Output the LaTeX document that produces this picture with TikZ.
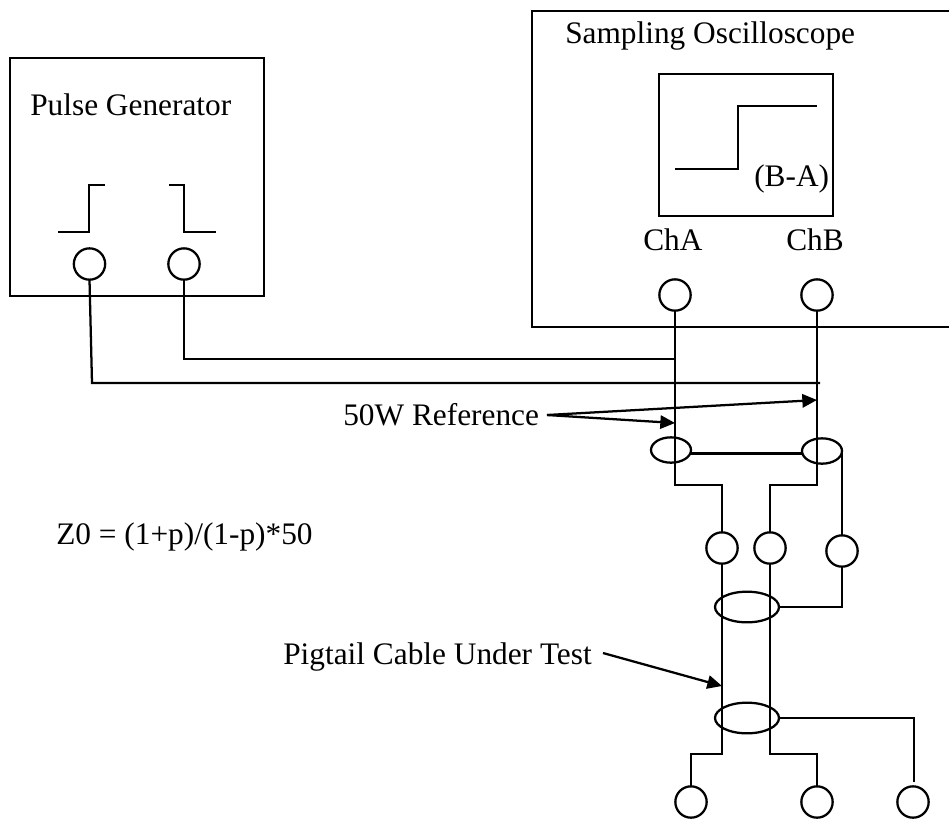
\documentclass[tikz,border=0pt]{standalone}
\usepackage{fontspec}
\setmainfont{Liberation Serif}
\usetikzlibrary{arrows.meta,shapes.geometric}
\tikzset{
  px/.style={x=0.75pt,y=-0.75pt},
  wire/.style={line width=1.7pt,black},
  port/.style={circle,draw,line width=1.7pt,minimum size=23.5pt,inner sep=0pt,outer sep=0pt},
  ring/.style={ellipse,draw,line width=1.7pt,inner sep=0pt,outer sep=0pt,minimum width=#1},
  lbl/.style={font=\fontsize{23.5}{28}\selectfont,inner sep=0pt,anchor=base west},
  pointer/.style={line width=1.7pt,-{Triangle[length=11pt,width=10pt]}}
}
\begin{document}
\begin{tikzpicture}[px]
\useasboundingbox (0,0) rectangle (949,819);
\fill[white] (0,0) rectangle (949,819);
% boxes
\node[draw,line width=1.7pt,inner sep=0pt,outer sep=0pt,minimum width=190.5pt,minimum height=178.5pt] (pulse) at (137,177) {};
\node[draw,line width=1.7pt,inner sep=0pt,outer sep=0pt,minimum width=130.5pt,minimum height=106.5pt] (screen) at (746,145) {};
\draw[wire] (949,11) -- (532,11) -- (532,327) -- (949,327);
% labels
\node[lbl] (tpulse) at (30,115) {Pulse Generator};
\node[lbl] (tscope) at (565,43) {Sampling Oscilloscope};
\node[lbl] (tba) at (754,186) {(B-A)};
\node[lbl] (tcha) at (643,250) {ChA};
\node[lbl] (tchb) at (786,250) {ChB};
\node[lbl] (tref) at (343,425) {50W Reference};
\node[lbl] (tz) at (56,544) {Z0 = (1+p)/(1-p)*50};
\node[lbl] (tpig) at (283,664) {Pigtail Cable Under Test};
% waveforms
\draw[wire] (58,232) -- (89,232) -- (89,185) -- (105,185);
\draw[wire] (169,185) -- (184,185) -- (184,232) -- (216,232);
\draw[wire] (675,169) -- (738,169) -- (738,106) -- (817,106);
% ports
\node[port] (pa) at (89.5,264) {};
\node[port] (pb) at (184,264) {};
\node[port] (cha) at (675,295) {};
\node[port] (chb) at (817,295) {};
\node[port] (m1) at (722,548) {};
\node[port] (m2) at (770,548) {};
\node[port] (m3) at (842,551) {};
\node[port] (b1) at (691,802) {};
\node[port] (b2) at (817,802) {};
\node[port] (b3) at (913,802) {};
% rings
\node[ring=30pt,minimum height=19pt] (r1) at (671,450) {};
\node[ring=30pt,minimum height=19pt] (r2) at (822,451) {};
\node[ring=48pt,minimum height=23pt] (r3) at (747,607) {};
\node[ring=48pt,minimum height=23pt] (r4) at (747,718) {};
% coordinates
\coordinate (ea) at (675,485);
\coordinate (eb) at (817,485);
\coordinate (refend) at (820,383);
\coordinate (brk) at (675,359);
% wires
\draw[wire] (pa.south) -- (92,383) -- (refend);
\draw[wire] (pb.south) -- (184,359) -- (brk);
\draw[wire] (cha.south) -- (ea) -| (m1.north);
\draw[wire] (chb.south) -- (eb) -| (m2.north);
\draw[wire] (r1.east |- 0,453.5) -- (r2.west |- 0,453.5);
\draw[wire] (r2.east) -- (m3.north);
\draw[wire] (m1.south) -- (722,754) -| (b1.north);
\draw[wire] (m2.south) -- (770,754) -| (b2.north);
\draw[wire] (r3.east) -| (m3.south);
\coordinate (gap) at (914,782);
\draw[wire] (r4.east) -| (gap);
% pointers
\coordinate (sref) at (547,415);
\coordinate (spig) at (603,653);
\draw[pointer] (sref) -- (675,423);
\draw[pointer] (sref) -- (817,400);
\draw[pointer] (spig) -- (722,686);
\end{tikzpicture}
\end{document}
